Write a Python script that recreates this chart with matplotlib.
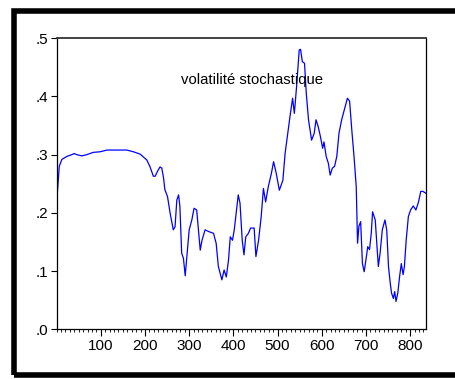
import matplotlib
matplotlib.use("Agg")
import matplotlib.pyplot as plt
from matplotlib.patches import Rectangle
from matplotlib.ticker import MultipleLocator

plt.rcParams['font.family'] = ['Liberation Sans', 'DejaVu Sans']

obs = [1, 6, 12, 23, 34, 40, 46, 57, 68, 83, 98, 114, 136, 159, 174, 189, 204, 211,
       219, 223, 228, 234, 238, 242, 245, 251, 257, 264, 268, 272, 276, 279, 283, 287,
       291, 294, 300, 306, 311, 317, 321, 325, 329, 336, 344, 355, 361, 366, 374, 379,
       384, 389, 393, 398, 402, 408, 411, 415, 420, 424, 428, 434, 439, 447, 451, 457,
       463, 468, 473, 479, 486, 491, 497, 504, 512, 517, 522, 528, 534, 538, 543, 549,
       552, 556, 561, 565, 570, 577, 583, 587, 592, 597, 602, 605, 610, 615, 619, 624,
       629, 634, 639, 645, 653, 658, 663, 668, 673, 678, 681, 684, 688, 692, 696, 701,
       704, 708, 712, 715, 721, 725, 728, 732, 737, 743, 747, 751, 755, 758, 762, 765,
       768, 772, 776, 780, 784, 787, 791, 796, 801, 807, 813, 819, 824, 829, 835]
vol = [0.227, 0.280, 0.292, 0.297, 0.300, 0.302, 0.300, 0.298, 0.300, 0.304, 0.305,
       0.308, 0.308, 0.308, 0.305, 0.301, 0.291, 0.280, 0.263, 0.263, 0.271, 0.279,
       0.277, 0.260, 0.240, 0.228, 0.199, 0.171, 0.176, 0.222, 0.231, 0.211, 0.131,
       0.122, 0.092, 0.119, 0.171, 0.188, 0.208, 0.205, 0.171, 0.136, 0.153, 0.171,
       0.168, 0.165, 0.148, 0.108, 0.085, 0.102, 0.090, 0.119, 0.159, 0.153, 0.171,
       0.211, 0.231, 0.217, 0.153, 0.128, 0.159, 0.165, 0.174, 0.174, 0.125, 0.153,
       0.194, 0.242, 0.219, 0.245, 0.268, 0.288, 0.268, 0.239, 0.256, 0.302, 0.331,
       0.365, 0.397, 0.371, 0.417, 0.480, 0.481, 0.460, 0.457, 0.405, 0.360, 0.325,
       0.337, 0.360, 0.348, 0.331, 0.311, 0.322, 0.297, 0.285, 0.265, 0.277, 0.280,
       0.297, 0.337, 0.360, 0.383, 0.397, 0.392, 0.342, 0.297, 0.245, 0.148, 0.177,
       0.185, 0.113, 0.099, 0.125, 0.142, 0.137, 0.165, 0.202, 0.188, 0.142, 0.108,
       0.131, 0.171, 0.188, 0.171, 0.108, 0.079, 0.062, 0.053, 0.065, 0.048, 0.062,
       0.090, 0.113, 0.094, 0.108, 0.153, 0.194, 0.205, 0.212, 0.205, 0.219, 0.237,
       0.237, 0.234]
xticks = [100, 200, 300, 400, 500, 600, 700, 800]
yticks = [0, 0.1, 0.2, 0.3, 0.4, 0.5]
ylabels = ['.0', '.1', '.2', '.3', '.4', '.5']

fig = plt.figure(figsize=(4.55, 3.79), dpi=100)
# thick outer frame
fig.patches.append(Rectangle((0.031, 0.011), 1.0, 0.96, transform=fig.transFigure,
                             fill=False, edgecolor='black', linewidth=4))

ax = fig.add_axes([0.1244, 0.131, 0.812, 0.768])
ax.plot(obs, vol, color='#0000ff', linewidth=0.9)

ax.set_xlim(0, 836)
ax.set_ylim(0, 0.5)
ax.set_xticks(xticks)
ax.set_xticklabels([str(t) for t in xticks])
ax.xaxis.set_minor_locator(MultipleLocator(10))
ax.set_yticks(yticks)
ax.set_yticklabels(ylabels)
ax.tick_params(axis='both', which='major', direction='out', length=4, width=0.8,
               labelsize=11, pad=2)
ax.tick_params(axis='x', which='minor', direction='out', length=2.5, width=0.6)
ax.tick_params(axis='x', which='major', length=5)
for side in ['left', 'bottom', 'right']:
    ax.spines[side].set_linewidth(0.9)
ax.spines['top'].set_linewidth(1.3)
ax.spines['top'].set_color('#333333')

ax.text(0.53, 0.858, 'volatilité stochastique', transform=ax.transAxes,
        ha='center', va='center', fontsize=10.7)

fig.savefig('out.png', dpi=100)
